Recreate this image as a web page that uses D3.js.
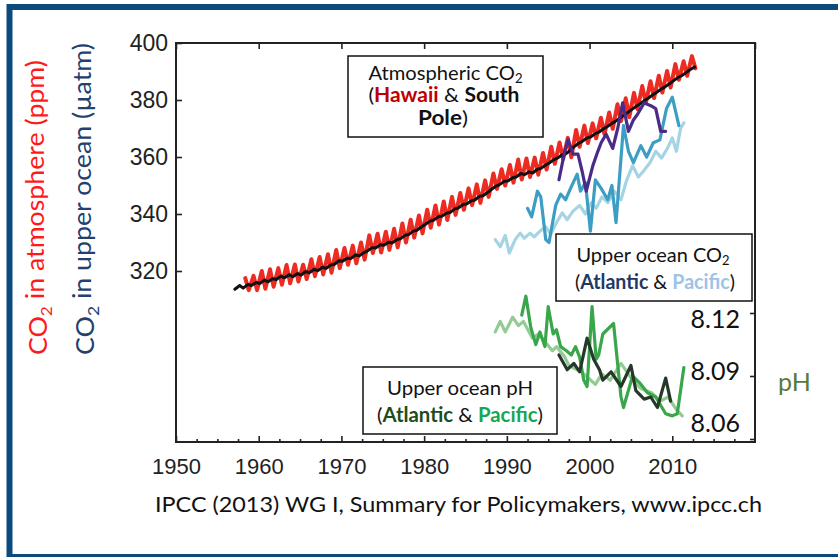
<!DOCTYPE html>
<html>
<head>
<meta charset="utf-8">
<script src="https://cdn.jsdelivr.net/npm/d3@7"></script>
<style>
body { margin:0; background:#fff; }
svg { display:block; }
</style>
</head>
<body>
<svg id="chart" width="838" height="557"></svg>
<script>
// Mauna Loa (Hawaii): yearly May peak and autumn low, from 1958
var hawaiiStart = 1958;
var hawaiiPeak = [317.5,318.3,320.0,320.6,321.0,322.1,322.3,322.2,324.1,324.9,
  325.9,327.4,328.1,328.9,330.0,332.5,333.1,333.8,334.8,336.7,
  338.0,339.5,341.5,343.0,344.4,346.0,347.4,349.0,350.4,351.8,
  354.2,355.7,357.2,359.1,359.5,359.8,361.4,363.6,365.1,366.7,
  369.5,371.0,371.8,373.8,375.6,378.5,380.6,382.5,384.9,386.6,
  388.5,390.2,392.6,393.6,395.4];
var hawaiiTrough = [313.3,313.3,313.8,314.5,315.2,315.7,316.3,317.2,318.2,318.8,
  319.4,321.0,322.2,322.7,324.0,326.3,326.5,327.4,328.3,330.0,
  331.7,333.2,335.2,336.3,337.9,339.7,341.5,343.1,343.9,346.0,
  348.8,350.0,351.0,352.1,353.0,353.8,355.6,357.6,359.3,359.9,
  363.6,364.9,366.6,368.0,369.9,372.6,374.0,376.8,378.9,380.7,
  382.6,384.4,387.1,388.5,391.1];

// South Pole: early-year low and late-year high, from 1957
var poleStart = 1957;
var poleLow = [313.6,314.0,314.9,315.6,316.2,317.0,317.6,318.0,318.6,319.4,
  320.1,320.9,322.3,323.4,324.4,325.3,327.0,328.1,329.0,329.8,
  331.3,332.8,334.3,336.3,337.8,339.2,340.5,342.1,343.5,344.9,
  346.4,348.6,350.3,351.6,353.0,353.8,354.4,356.0,357.9,359.6,
  361.1,363.6,365.5,367.0,368.7,370.6,372.5,374.6,376.7,378.7,
  380.7,382.7,384.6,386.7,388.5,390.6];
var poleHigh = [314.9,315.3,316.0,316.8,317.3,318.2,318.7,319.1,319.8,320.6,
  321.3,322.1,323.6,324.5,325.6,326.4,328.2,329.2,330.1,331.0,
  332.5,334.0,335.5,337.5,339.0,340.3,341.8,343.3,344.6,346.2,
  347.6,349.8,351.5,352.7,354.2,354.8,355.7,357.2,359.1,360.8,
  362.4,364.8,366.7,368.2,369.9,371.8,373.7,375.8,377.9,379.9,
  381.9,383.9,385.8,387.9,389.7,391.6];

// upper ocean pCO2 (year, uatm)
var oceanCO2Dark = [[1996.3,352],[1997.0,362],[1997.4,366],[1998.0,361],[1998.6,361],[1999.1,355],
  [1999.6,348],[2000.4,357],[2001.0,362],[2001.4,365],[2002.0,368],[2002.8,363],[2003.4,370],
  [2004.0,379],[2004.7,369],[2005.3,373],[2005.8,375],[2006.6,379],[2007.4,378],[2008.0,377],
  [2008.6,369],[2009.2,369]];
var oceanCO2Mid = [[1992.5,342],[1993.0,339],[1993.7,348],[1994.1,346],[1994.7,331],[1995.1,330],
  [1995.9,343],[1996.5,347],[1997.1,345],[1997.7,349],[1998.5,354],[1998.9,348],[1999.5,351],
  [2000.1,334],[2000.7,352],[2001.4,349],[2002.2,345],[2002.7,350],[2003.2,337],[2004.1,371],
  [2004.7,362],[2005.3,358],[2006.2,364],[2006.9,360],[2007.7,365],[2008.5,366],[2009.3,377],
  [2010.0,381],[2010.8,371]];
var oceanCO2Light = [[1988.6,331],[1989.2,328.5],[1989.8,332.5],[1990.3,326.3],[1991.0,331],
  [1991.6,333.3],[1992.1,331.5],[1992.8,333.3],[1993.3,332],[1994.0,334],[1994.7,335.5],
  [1995.3,333],[1996.0,337],[1996.7,340.4],[1997.3,338],[1998.0,341],[1998.8,343],[1999.5,340],
  [2000.2,344],[2000.8,342],[2001.5,346],[2002.2,344],[2003.0,348],[2003.8,345],[2004.5,352],
  [2005.2,357],[2005.9,353],[2006.5,355],[2007.3,358],[2008.0,362],[2008.7,359.6],[2009.4,363],
  [2010.0,366.7],[2010.5,362],[2011.0,370],[2011.4,372]];

// upper ocean pH (year, pH)
var oceanPHDark = [[1996.3,8.100],[1997.3,8.093],[1998.1,8.096],[1998.8,8.092],[1999.7,8.108],
  [2000.5,8.098],[2001.2,8.093],[2001.6,8.088],[2002.6,8.092],[2003.8,8.085],[2005.0,8.095],
  [2005.6,8.083],[2006.6,8.079],[2007.4,8.080],[2008.2,8.075],[2009.2,8.089],[2009.8,8.078]];
var oceanPHMid = [[1991.8,8.119],[1992.3,8.128],[1992.9,8.113],[1993.5,8.105],[1994.0,8.111],
  [1994.6,8.104],[1995.0,8.123],[1995.6,8.110],[1996.0,8.112],[1996.5,8.104],[1997.2,8.102],
  [1997.8,8.100],[1998.3,8.104],[1998.8,8.099],[1999.3,8.088],[1999.7,8.085],[2000.3,8.123],
  [2000.8,8.098],[2001.1,8.100],[2001.6,8.110],[2002.9,8.115],[2003.8,8.080],[2004.1,8.075],
  [2005.2,8.090],[2006.0,8.087],[2007.0,8.082],[2008.0,8.080],[2009.2,8.072],[2010.0,8.071],
  [2010.6,8.072],[2011.4,8.094]];
var oceanPHLight = [[1988.6,8.111],[1989.2,8.116],[1989.8,8.111],[1990.7,8.118],[1991.4,8.114],
  [1992.0,8.116],[1993.1,8.108],[1993.8,8.110],[1994.7,8.106],[1995.5,8.102],[1996.0,8.104],
  [1997.0,8.099],[1997.5,8.095],[1999.0,8.092],[2000.7,8.086],[2001.5,8.091],[2002.5,8.088],
  [2003.8,8.096],[2005.2,8.088],[2006.2,8.084],[2007.5,8.082],[2008.5,8.078],[2009.5,8.080],
  [2010.5,8.074],[2011.2,8.071]];

var yearTicks = [1950,1960,1970,1980,1990,2000,2010];
var yearMinor = [1952.5,1955,1957.5,1962.5,1965,1967.5,1972.5,1975,1977.5,1982.5,1985,1987.5,
  1992.5,1995,1997.5,2002.5,2005,2007.5,2012.5,2015,2017.5];
var co2Ticks = [320,340,360,380,400];
var phTicks = [8.12,8.09,8.06];

var svg = d3.select("#chart");
var calibri = "Lato, 'Open Sans', sans-serif";
var helv = "'Liberation Sans', Arial, sans-serif";

// outer frame
svg.append("rect")
   .attr("x", 9.5).attr("y", 7)
   .attr("width", 900).attr("height", 550)
   .attr("fill", "none")
   .attr("stroke", "#0c4a7c")
   .attr("stroke-width", 6);

var plotL = 176, plotR = 755, plotT = 43, plotB = 442;

var x = d3.scaleLinear().domain([1950, 2020]).range([plotL, plotR]);
var y = d3.scaleLinear().domain([260, 400]).range([plotB, plotT]);
var yPH = d3.scaleLinear().domain([8.06, 8.12]).range([439, 313]);
var yPHLabel = d3.scaleLinear().domain([8.06, 8.12]).range([432, 328]);

// axes
var gx = svg.append("g")
   .attr("transform", "translate(0," + plotB + ")")
   .call(d3.axisBottom(x).tickValues(yearTicks).tickSize(-6).tickPadding(16).tickFormat(d3.format("d")));
gx.selectAll("text").attr("font-size", "22px").attr("font-family", helv).attr("fill", "#222");
svg.append("g")
   .attr("transform", "translate(0," + plotB + ")")
   .call(d3.axisBottom(x).tickValues(yearMinor).tickSize(-3).tickFormat(""));
svg.append("g")
   .attr("transform", "translate(0," + plotT + ")")
   .call(d3.axisTop(x).tickValues(yearTicks.concat([2020])).tickSize(-6).tickFormat(""));
var gy = svg.append("g")
   .attr("transform", "translate(" + plotL + ",0)")
   .call(d3.axisLeft(y).tickValues(co2Ticks).tickSize(-6).tickPadding(8));
gy.selectAll("text").attr("font-size", "23px").attr("font-family", helv).attr("fill", "#222");
svg.append("g")
   .attr("transform", "translate(" + plotR + ",0)")
   .call(d3.axisRight(yPH).tickValues(phTicks).tickSize(-5).tickFormat(""));

svg.selectAll(".domain").remove();
svg.selectAll(".tick line").attr("stroke", "#222").attr("stroke-width", 1.6);

svg.append("rect")
   .attr("x", plotL).attr("y", plotT)
   .attr("width", plotR - plotL).attr("height", plotB - plotT)
   .attr("fill", "none")
   .attr("stroke", "#222")
   .attr("stroke-width", 2);

// pH tick labels
svg.selectAll(".phlab")
   .data(phTicks)
   .enter().append("text")
   .attr("class", "phlab")
   .attr("x", 740)
   .attr("y", function(d) { return yPHLabel(d); })
   .attr("text-anchor", "end")
   .attr("font-family", calibri)
   .attr("font-size", "25px")
   .attr("fill", "#111")
   .text(function(d) { return d3.format(".2f")(d); });

// lines
var lineCO2 = d3.line().x(function(d) { return x(d[0]); }).y(function(d) { return y(d[1]); });
var linePH = d3.line().x(function(d) { return x(d[0]); }).y(function(d) { return yPH(d[1]); });

var hawaii = [];
hawaiiPeak.forEach(function(v, i) {
	hawaii.push([hawaiiStart + i + 0.37, v]);
	hawaii.push([hawaiiStart + i + 0.8, hawaiiTrough[i]]);
});
var pole = [];
poleLow.forEach(function(v, i) {
	pole.push([poleStart + i + 0.12, v]);
	pole.push([poleStart + i + 0.7, poleHigh[i]]);
});

function drawLine(data, gen, color, w) {
	svg.append("path")
	   .datum(data)
	   .attr("d", gen)
	   .attr("fill", "none")
	   .attr("stroke", color)
	   .attr("stroke-width", w)
	   .attr("stroke-linejoin", "round")
	   .attr("stroke-linecap", "round");
}

drawLine(hawaii, lineCO2, "#ec2b23", 4);
drawLine(pole, lineCO2, "#111", 3);
drawLine(oceanCO2Light, lineCO2, "#a5d5e4", 3.2);
drawLine(oceanCO2Mid, lineCO2, "#3c9ec2", 3.2);
drawLine(oceanCO2Dark, lineCO2, "#4a2b88", 3.2);
drawLine(oceanPHLight, linePH, "#93cc93", 3.2);
drawLine(oceanPHMid, linePH, "#3aa64a", 3.2);
drawLine(oceanPHDark, linePH, "#26382a", 3.2);

// annotation boxes
function addBox(bx, by, bw, bh) {
	svg.append("rect")
	   .attr("x", bx).attr("y", by)
	   .attr("width", bw).attr("height", bh)
	   .attr("fill", "#fff")
	   .attr("stroke", "#111")
	   .attr("stroke-width", 1.5);
}

function addText(tx, ty, parts, len, size) {
	var t = svg.append("text")
	   .attr("x", tx).attr("y", ty)
	   .attr("text-anchor", "middle")
	   .attr("font-family", calibri)
	   .attr("font-size", size + "px")
	   .attr("fill", "#111");
	if (len) t.attr("textLength", len).attr("lengthAdjust", "spacingAndGlyphs");
	parts.forEach(function(p) {
		var s = t.append("tspan").text(p.t);
		if (p.c) s.attr("fill", p.c);
		if (p.b) s.attr("font-weight", "bold");
		if (p.sub) s.attr("font-size", "0.65em").attr("dy", "0.25em");
	});
	return t;
}

addBox(348, 56, 195, 81);
addText(445.5, 80, [{t: "Atmospheric CO"}, {t: "2", sub: true}], 154, 20);
addText(444, 102, [{t: "("}, {t: "Hawaii", c: "#c00000", b: true}, {t: " & "}, {t: "South", b: true}], 151, 20);
addText(443, 125, [{t: "Pole", b: true}, {t: ")"}], 50, 20);

addBox(556, 234, 196, 67);
addText(653, 262, [{t: "Upper ocean CO"}, {t: "2", sub: true}], 153, 20);
addText(655, 289, [{t: "("}, {t: "Atlantic", c: "#1f3864", b: true}, {t: " & "}, {t: "Pacific", c: "#9dc3e6", b: true}, {t: ")"}], 160, 20);

addBox(363, 367, 194, 67);
addText(460, 395, [{t: "Upper ocean pH"}], 146, 20);
addText(460, 422, [{t: "("}, {t: "Atlantic", c: "#1d4d1d", b: true}, {t: " & "}, {t: "Pacific", c: "#14a853", b: true}, {t: ")"}], 166, 20);

// side titles
function sideTitle(tx, words, color, len) {
	var t = svg.append("text")
	   .attr("transform", "translate(" + tx + ",355) rotate(-90)")
	   .attr("font-family", calibri)
	   .attr("font-size", "25px")
	   .attr("fill", color)
	   .attr("textLength", len)
	   .attr("lengthAdjust", "spacingAndGlyphs");
	t.append("tspan").text("CO");
	t.append("tspan").text("2").attr("font-size", "0.65em").attr("dy", "0.3em");
	t.append("tspan").text(words).attr("dy", "-0.3em");
}
sideTitle(47, " in atmosphere (ppm)", "#ff1a1a", 295);
sideTitle(94, " in upper ocean (\u00b5atm)", "#23406e", 312);

svg.append("text")
   .attr("x", 778).attr("y", 391)
   .attr("font-family", calibri)
   .attr("font-size", "25px")
   .attr("fill", "#5a7a3a")
   .text("pH");

// source line
svg.append("text")
   .attr("x", 155).attr("y", 512)
   .attr("font-family", calibri)
   .attr("font-size", "21px")
   .attr("fill", "#111")
   .attr("textLength", 607)
   .attr("lengthAdjust", "spacingAndGlyphs")
   .text("IPCC (2013) WG I, Summary for Policymakers, www.ipcc.ch");
</script>
</body>
</html>
